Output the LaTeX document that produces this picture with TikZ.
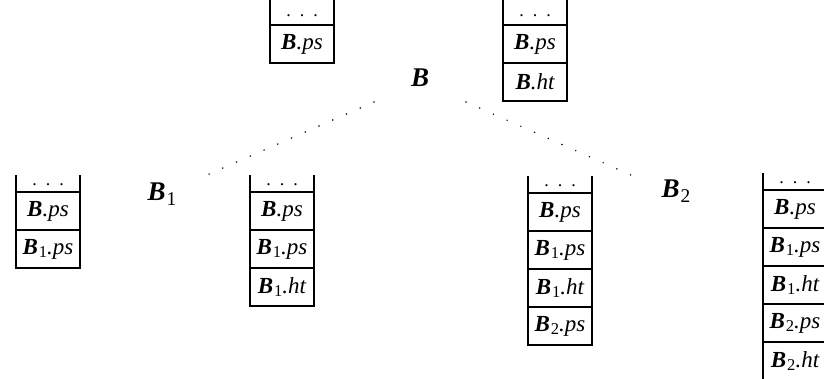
\documentclass[tikz,border=0pt]{standalone}
\usepackage{fontspec}
\setmainfont{Liberation Serif}
\usetikzlibrary{positioning}
\tikzset{
  cell/.style={draw, line width=1.1pt, minimum width=32pt, minimum height=19pt,
    inner sep=0pt, outer sep=0pt, font=\fontsize{11.5}{13}\selectfont\itshape},
  side/.style={line width=1.1pt},
  gap/.style={font=\small, inner sep=0pt},
  blabel/.style={font=\fontsize{13.5}{16}\selectfont\bfseries\itshape, inner sep=0pt},
  link/.style={line width=0.8pt, line cap=round, dash pattern=on 0pt off 7.5pt}
}
\newcommand{\low}[1]{\kern0.5pt\raisebox{-0.35ex}{\scalebox{0.72}{\upshape\mdseries #1}}}
\newcommand{\pb}{\textbf{B}}
\newcommand{\psub}[1]{\textbf{B}\low{#1}}
\begin{document}
\begin{tikzpicture}[x=0.5pt,y=-0.5pt]
    \useasboundingbox (0,0) rectangle (824,379);
    \clip (0,0) rectangle (824,379);
    % top stacks
    \node[cell] (ta1) at (302,44) {\pb.ps};
    \draw[side] (ta1.north west) -- ++(0,-30) (ta1.north east) -- ++(0,-30);
    \node[gap, above=4pt of ta1] (tad) {.\enspace.\enspace.};
    \node[cell] (tb1) at (535,44) {\pb.ps};
    \node[cell, below=0pt of tb1] (tb2) {\pb.ht};
    \draw[side] (tb1.north west) -- ++(0,-30) (tb1.north east) -- ++(0,-30);
    \node[gap, above=4pt of tb1] (tbd) {.\enspace.\enspace.};
    % tree labels
    \node[blabel] (B) at (420,78) {B};
    \node[blabel] (B1) at (162,194) {B\low{1}};
    \node[blabel] (B2) at (676,191) {B\low{2}};
    \coordinate (l1) at (374,102);
    \coordinate (l2) at (200,178);
    \coordinate (r1) at (466,102);
    \coordinate (r2) at (642,180);
    \draw[link] (l1) -- (l2);
    \draw[link] (r1) -- (r2);
    % bottom stacks
    \node[cell] (sa1) at (48,211) {\pb.ps};
    \node[cell, below=0pt of sa1] (sa2) {\psub{1}.ps};
    \draw[side] (sa1.north west) -- ++(0,-17) (sa1.north east) -- ++(0,-17);
    \node[gap, above=3pt of sa1] (sad) {.\enspace.\enspace.};
    \node[cell] (sb1) at (282,211) {\pb.ps};
    \node[cell, below=0pt of sb1] (sb2) {\psub{1}.ps};
    \node[cell, below=0pt of sb2] (sb3) {\psub{1}.ht};
    \draw[side] (sb1.north west) -- ++(0,-17) (sb1.north east) -- ++(0,-17);
    \node[gap, above=3pt of sb1] (sbd) {.\enspace.\enspace.};
    \node[cell] (sc1) at (560,212) {\pb.ps};
    \node[cell, below=0pt of sc1] (sc2) {\psub{1}.ps};
    \node[cell, below=0pt of sc2] (sc3) {\psub{1}.ht};
    \node[cell, below=0pt of sc3] (sc4) {\psub{2}.ps};
    \draw[side] (sc1.north west) -- ++(0,-17) (sc1.north east) -- ++(0,-17);
    \node[gap, above=3pt of sc1] (scd) {.\enspace.\enspace.};
    \node[cell] (sd1) at (795,209) {\pb.ps};
    \node[cell, below=0pt of sd1] (sd2) {\psub{1}.ps};
    \node[cell, below=0pt of sd2] (sd3) {\psub{1}.ht};
    \node[cell, below=0pt of sd3] (sd4) {\psub{2}.ps};
    \node[cell, below=0pt of sd4] (sd5) {\psub{2}.ht};
    \draw[side] (sd1.north west) -- ++(0,-17) (sd1.north east) -- ++(0,-17);
    \node[gap, above=3pt of sd1] (sdd) {.\enspace.\enspace.};
\end{tikzpicture}
\end{document}
